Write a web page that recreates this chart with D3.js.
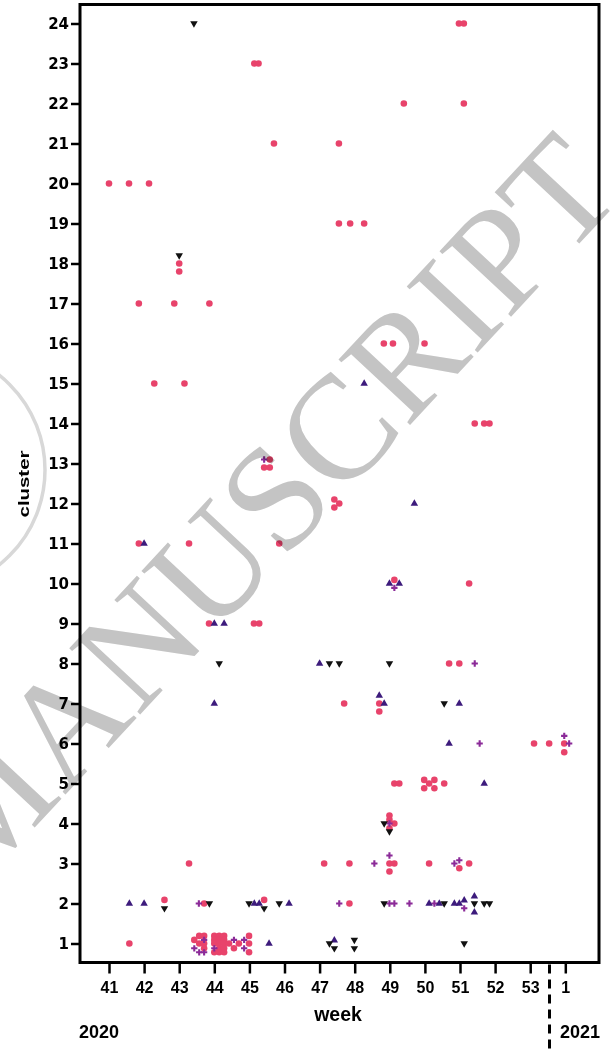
<!DOCTYPE html>
<html><head><meta charset="utf-8">
<script src="https://cdn.jsdelivr.net/npm/d3@7"></script>
<style>body{margin:0;background:#fff}svg{display:block}text{font-family:"Liberation Sans",Arial,sans-serif;font-weight:bold}</style>
</head><body><svg id="c" width="611" height="1052"></svg>
<script>
// week position: 41..53 = 2020 weeks, 54 = 2021 week 1
const weekTicks = [41,42,43,44,45,46,47,48,49,50,51,52,53,54];
const weekLabels = ["41","42","43","44","45","46","47","48","49","50","51","52","53","1"];
const clusterTicks = d3.range(1,25);

// [week, cluster] (cluster offset slightly where points are stacked)
const pinkPoints = [
 [50.97,24],[51.11,24],[45.14,23],[45.26,23],[49.4,22],[51.11,22],[45.7,21],[47.55,21],
 [41.0,20],[41.57,20],[42.14,20],[47.55,19],[47.87,19],[48.27,19],[43.0,18.0],[43.0,17.8],
 [41.85,17],[42.86,17],[43.86,17],[48.83,16],[49.09,16],[49.99,16],[42.29,15],[43.15,15],
 [51.42,14],[51.69,14],[51.84,14],[45.58,13.1],[45.42,12.9],[45.58,12.9],
 [47.42,12.1],[47.56,12.0],[47.42,11.9],[41.85,11],[43.28,11],[45.85,11],
 [49.13,10.09],[51.26,10],[43.85,9],[45.13,9],[45.28,9],[50.69,8],[50.98,8],
 [47.7,7],[48.70,7.0],[48.70,6.8],[53.11,6],[53.54,6],[53.97,6.0],[53.97,5.78],
 [49.13,5],[49.27,5],[49.98,5.09],[50.27,5.09],[50.12,5],[50.55,5],[49.98,4.88],[50.27,4.88],
 [48.99,4.2],[48.99,4.09],[49.13,4.0],[48.99,3.88],
 [43.28,3],[47.13,3],[47.85,3],[48.99,3.0],[49.13,3.0],[48.99,2.8],[50.12,3],[50.98,2.88],[51.26,3],
 [42.58,2.09],[43.71,2],[45.42,2.09],[47.85,2],
 [41.58,1],[43.43,1.09],[43.57,1.19],[43.57,1.0],[43.71,1.19],[43.71,1.0],[43.71,0.88],
 [44.0,1.19],[44.0,1.09],[44.0,1.0],[44.0,0.78],
 [44.14,1.19],[44.14,1.09],[44.14,1.0],[44.14,0.88],[44.14,0.78],
 [44.28,1.19],[44.28,1.09],[44.28,1.0],[44.28,0.88],[44.28,0.78],
 [44.42,1.0],[44.56,0.88],[44.70,1.0],[44.99,1.19],[44.99,1.0],[44.99,0.78]
];
const crossPoints = [
 [45.42,13.1],[49.13,9.89],[51.42,8],[51.56,6],[53.97,6.19],[54.11,6.0],[48.99,4.0],
 [48.56,3],[48.99,3.2],[50.84,3],[50.98,3.08],
 [43.56,2],[47.56,2],[48.99,2],[49.13,2],[49.56,2],[50.27,2],[51.12,1.88],
 [43.43,0.88],[43.57,0.78],[43.71,1.09],[43.71,0.78],[44.0,0.88],[44.56,1.09],[44.85,1.09],[44.85,0.88]
];
const upPoints = [
 [48.27,15],[49.70,12],[42.0,11],[48.99,10],[49.27,10],[44.0,9],[44.28,9],[47.0,8],
 [48.70,7.2],[48.84,7.0],[44.0,7],[50.98,7],[50.69,6],[51.69,5],
 [41.58,2],[42.0,2],[45.14,2],[45.28,2],[46.13,2],[50.12,2],[50.41,2],[50.84,2],[50.98,2],
 [51.12,2.08],[51.41,2.18],[51.41,1.78],[45.56,1],[47.42,1.08]
];
const downPoints = [
 [43.42,24],[43.0,18.2],[44.14,8],[47.28,8],[47.56,8],[48.99,8],[50.55,7],[48.84,4.0],[48.99,3.8],
 [42.58,1.88],[43.86,2],[44.99,2],[45.42,1.88],[45.85,2],[48.84,2],[50.55,2],[51.41,2],[51.69,2],[51.84,2],
 [47.28,1],[47.42,0.88],[47.99,1.09],[47.99,0.88],[51.12,1]
];

const svg = d3.select("#c");
const L=80,R=599,T=4.5,B=962.5;
const x = d3.scaleLinear().domain([41-(109-L)/35.1, 41+(R-109)/35.1]).range([L,R]);
const y = d3.scaleLinear().domain([1-(B-943.5)/40, 24+(23.5-T)/40]).range([B,T]);

// axes
const yAxis = d3.axisLeft(y).tickValues(clusterTicks).tickSize(9).tickPadding(2).tickFormat(d3.format("d"));
const gy = svg.append("g").attr("transform",`translate(${L},0)`).call(yAxis);
const xAxis = d3.axisBottom(x).tickValues(weekTicks).tickSize(11).tickPadding(8).tickFormat((d,i)=>weekLabels[i]);
const gx = svg.append("g").attr("transform",`translate(0,${B})`).call(xAxis);
[gx,gy].forEach(g=>{
  g.select(".domain").remove();
  g.selectAll(".tick line").attr("stroke","#000").attr("stroke-width",2.5);
  g.selectAll(".tick text").attr("fill","#000").style("font-weight","bold");
});
gx.selectAll(".tick text").style("font-size","16px").style("font-family","'Liberation Sans',Arial,sans-serif");
gy.selectAll(".tick text").style("font-size","15px").style("font-family","'DejaVu Sans',sans-serif");

// frame
svg.append("rect").attr("x",L).attr("y",T).attr("width",R-L).attr("height",B-T)
  .attr("fill","none").attr("stroke","#000").attr("stroke-width",3);

// year divider
const xDiv = x(53.55);
svg.append("line").attr("x1",xDiv).attr("x2",xDiv).attr("y1",B+2).attr("y2",1052)
  .attr("stroke","#000").attr("stroke-width",3).attr("stroke-dasharray","9,6");

svg.append("text").attr("x",338).attr("y",1021).attr("text-anchor","middle").style("font-size","19.5px").text("week");
svg.append("text").attr("x",79).attr("y",1038).style("font-size","18px").text("2020");
svg.append("text").attr("x",560).attr("y",1038).style("font-size","18px").text("2021");
svg.append("text").attr("transform","translate(29,484) rotate(-90) scale(1.2,0.9)").attr("text-anchor","middle").style("font-size","17px").text("cluster");

// marks
const pts = svg.append("g");
pts.selectAll("path.pk").data(pinkPoints).join("path").attr("class","pk")
  .attr("d",d3.symbol(d3.symbolCircle,34)).attr("transform",d=>`translate(${x(d[0])},${y(d[1])})`)
  .attr("fill","#e8436b");
pts.selectAll("path.cr").data(crossPoints).join("path").attr("class","cr")
  .attr("d",d3.symbol(d3.symbolCross,22)).attr("transform",d=>`translate(${x(d[0])},${y(d[1])})`)
  .attr("fill","#8b2a98");
pts.selectAll("path.up").data(upPoints).join("path").attr("class","up")
  .attr("d",d3.symbol(d3.symbolTriangle,24)).attr("transform",d=>`translate(${x(d[0])},${y(d[1])})`)
  .attr("fill","#3d1b7c");
pts.selectAll("path.dn").data(downPoints).join("path").attr("class","dn")
  .attr("d",d3.symbol(d3.symbolTriangle,24)).attr("transform",d=>`translate(${x(d[0])},${y(d[1])}) rotate(180)`)
  .attr("fill","#111");

// watermark
const wm = svg.append("g").style("mix-blend-mode","multiply");
wm.append("circle").attr("cx",-76).attr("cy",470).attr("r",121).attr("fill","none").attr("stroke","#d8d8d8").attr("stroke-width",3.5);
wm.append("text").attr("transform","translate(300,543) rotate(-47)").attr("text-anchor","middle")
  .style("font-family","'Liberation Serif','Times New Roman',serif").style("font-weight","normal")
  .style("font-size","148px").attr("fill","#c4c4c4").text("MANUSCRIPT");
</script></body></html>
